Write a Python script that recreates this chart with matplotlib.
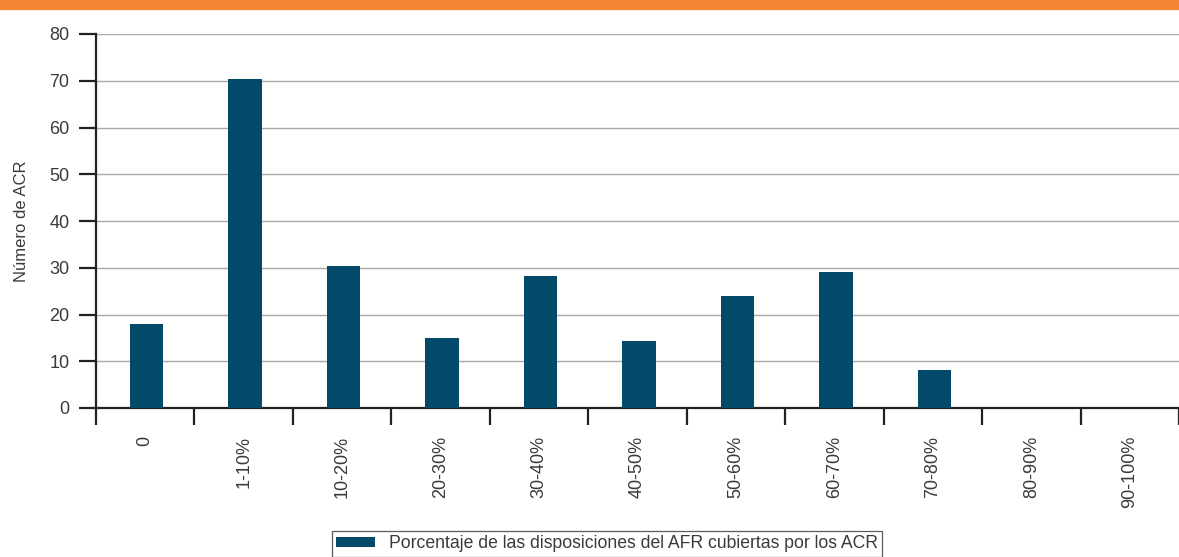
import numpy as np
import matplotlib.pyplot as plt
from matplotlib.patches import Rectangle

# data
categories = ['0', '1-10%', '10-20%', '20-30%', '30-40%', '40-50%',
              '50-60%', '60-70%', '70-80%', '80-90%', '90-100%']
counts = [18, 70.3, 30.3, 15, 28.3, 14.4, 24, 29, 8.2, 0, 0]
series_name = 'Porcentaje de las disposiciones del AFR cubiertas por los ACR'

plt.rcParams['font.family'] = ['Liberation Sans', 'DejaVu Sans']
text_color = '#3a3a3a'
bar_color = '#03496a'

fig = plt.figure(figsize=(11.79, 5.57), dpi=100)

# orange band at the top
fig.patches.append(Rectangle((0, 1 - 9 / 557), 1, 9 / 557, transform=fig.transFigure,
                             color='#f58634', zorder=0))

ax = fig.add_axes([96 / 1179, 149 / 557, 1 - 96 / 1179, 374 / 557])
x = np.arange(len(categories))
ax.bar(x + 0.015, counts, width=0.34, color=bar_color, zorder=3, label=series_name)

ax.set_xlim(-0.5, len(categories) - 0.5)
ax.set_ylim(0, 80)
ax.set_yticks(range(0, 81, 10))
ax.grid(axis='y', color='#a8a8a8', linewidth=1.0, zorder=0)

for side in ['top', 'right']:
    ax.spines[side].set_visible(False)
for side in ['left', 'bottom']:
    ax.spines[side].set_linewidth(1.6)
    ax.spines[side].set_color('#222222')

ax.tick_params(axis='y', length=12, width=1.6, color='#222222', pad=7,
               labelsize=13, labelcolor=text_color)

# category labels centred, tick marks at the boundaries
ax.set_xticks(x)
ax.set_xticklabels(categories, rotation=90, va='top', ha='center')
ax.tick_params(axis='x', which='major', length=0, pad=20, labelsize=13,
               labelcolor=text_color)
ax.set_xticks(np.arange(-0.5, len(categories), 1), minor=True)
ax.tick_params(axis='x', which='minor', length=12, width=1.6, color='#222222')

ax.set_ylabel('Número de ACR', fontsize=12, color=text_color)
ax.yaxis.set_label_coords(-0.062, 0.5)

leg = fig.legend(loc='upper center', bbox_to_anchor=(607 / 1179, 1 - 531 / 557),
                 borderaxespad=0, frameon=True, fancybox=False, fontsize=12.7,
                 handlelength=2.2, handleheight=0.45, borderpad=0.25,
                 labelcolor=text_color)
leg.get_frame().set_edgecolor('#333333')
leg.get_frame().set_linewidth(0.9)

fig.savefig('out.png', dpi=100)
